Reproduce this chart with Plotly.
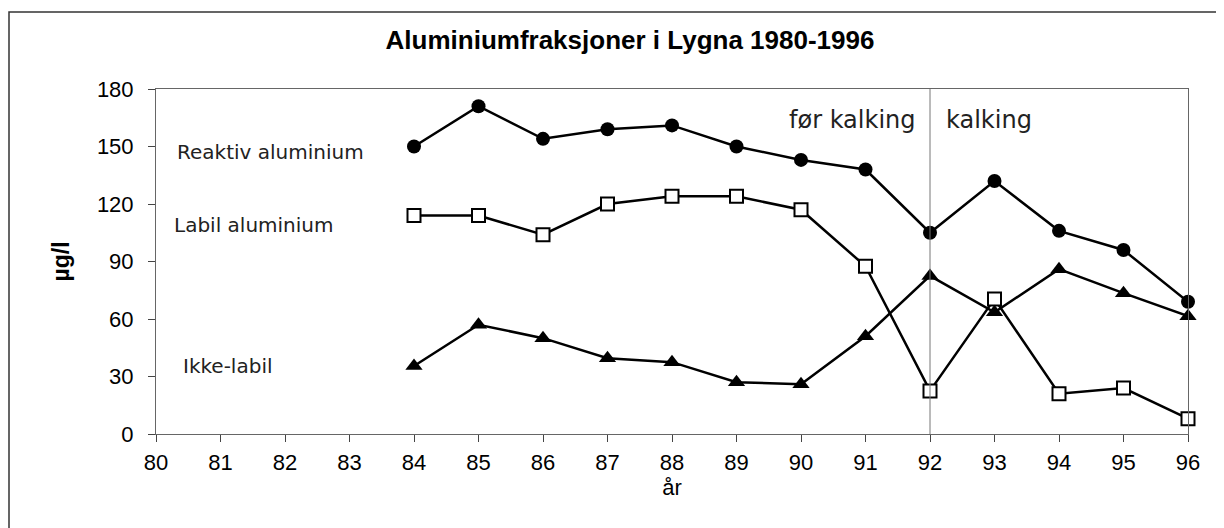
import plotly.graph_objects as go

years = [84, 85, 86, 87, 88, 89, 90, 91, 92, 93, 94, 95, 96]
reaktiv = [150, 171, 154, 159, 161, 150, 143, 138, 105, 132, 106, 96, 69]
labil = [114, 114, 104, 120, 124, 124, 117, 87.5, 22.5, 70.5, 21, 24, 8]
ikke_labil = [35.5, 57, 50, 39.5, 37.5, 27, 26, 51, 82.5, 63.5, 86, 73.5, 61.5]
x_ticks = list(range(80, 97))
y_ticks = [0, 30, 60, 90, 120, 150, 180]

# page body has an 8px margin: figure origin is at screen (8, 8)
OFF = 8
W, H = 1216, 520
# plot area in screen coords: x 156..1188, y 89..434
L, R, T, B = 156 - OFF, (W + OFF) - 1188, 89 - OFF, (H + OFF) - 434
PW, PH = W - L - R, H - T - B

def px(xs):
    return (xs - OFF - L) / PW
def py(ys):
    return (H - B - (ys - OFF)) / PH

fig = go.Figure()
line = dict(color="black", width=2.5)
fig.add_trace(go.Scatter(x=years, y=reaktiv, mode="lines+markers", line=line,
                         marker=dict(symbol="circle", size=14, color="black"),
                         name="Reaktiv aluminium"))
fig.add_trace(go.Scatter(x=years, y=labil, mode="lines+markers", line=line,
                         marker=dict(symbol="square", size=13, color="white",
                                     line=dict(color="black", width=2)),
                         name="Labil aluminium"))
fig.add_trace(go.Scatter(x=years, y=ikke_labil, mode="lines+markers", line=line,
                         marker=dict(symbol="triangle-up", size=15, color="black"),
                         name="Ikke-labil"))

fig.add_shape(type="line", xref="x", yref="y", x0=92, x1=92, y0=0, y1=180,
              line=dict(color="#777777", width=1))
# outer frame (open at right and bottom edges of the picture)
fig.add_shape(type="rect", xref="paper", yref="paper",
              x0=px(9), x1=px(1240), y0=py(560), y1=py(12),
              line=dict(color="#333333", width=1.5), layer="below")

ann_font = dict(family="DejaVu Sans", size=20, color="#222222")
big_font = dict(family="DejaVu Sans", size=24, color="#222222")

fig.add_annotation(x=px(175), y=py(152), xref="paper", yref="paper", text="Reaktiv aluminium",
                   showarrow=False, xanchor="left", yanchor="middle", font=ann_font)
fig.add_annotation(x=px(172), y=py(225), xref="paper", yref="paper", text="Labil aluminium",
                   showarrow=False, xanchor="left", yanchor="middle", font=ann_font)
fig.add_annotation(x=px(181), y=py(366), xref="paper", yref="paper", text="Ikke-labil",
                   showarrow=False, xanchor="left", yanchor="middle", font=ann_font)
fig.add_annotation(x=px(918), y=py(120), xref="paper", yref="paper", text="før kalking",
                   showarrow=False, xanchor="right", yanchor="middle", font=big_font)
fig.add_annotation(x=px(944), y=py(120), xref="paper", yref="paper", text="kalking",
                   showarrow=False, xanchor="left", yanchor="middle", font=big_font)

tick_font = dict(family="Liberation Sans", size=22, color="black")
axis_common = dict(showgrid=False, zeroline=False, showline=True, mirror=True,
                   linecolor="#666666", linewidth=1, ticks="outside", ticklen=7,
                   tickcolor="#444444", tickfont=tick_font)
fig.update_layout(
    width=W, height=H,
    margin=dict(l=L, r=R, t=T, b=B),
    paper_bgcolor="white", plot_bgcolor="white",
    showlegend=False,
    title=dict(text="<b>Aluminiumfraksjoner i Lygna 1980-1996</b>", x=(630 - OFF) / W, xanchor="center",
               xref="container", y=1 - (40 - OFF) / H, yanchor="middle", yref="container",
               font=dict(family="Liberation Sans", size=26, color="black")),
    xaxis=dict(range=[80, 96], tickvals=x_ticks, ticktext=[str(v) for v in x_ticks],
               ticklabelstandoff=2,
               title=dict(text="år", font=dict(family="Liberation Sans", size=22, color="black"), standoff=4),
               **axis_common),
    yaxis=dict(range=[0, 180], tickvals=y_ticks, ticklabelstandoff=10,
               title=dict(text="<b>µg/l</b>", font=dict(family="Liberation Sans", size=23, color="black"), standoff=20),
               **axis_common),
)
fig.update_traces(cliponaxis=False)
fig.write_html("out.html")
